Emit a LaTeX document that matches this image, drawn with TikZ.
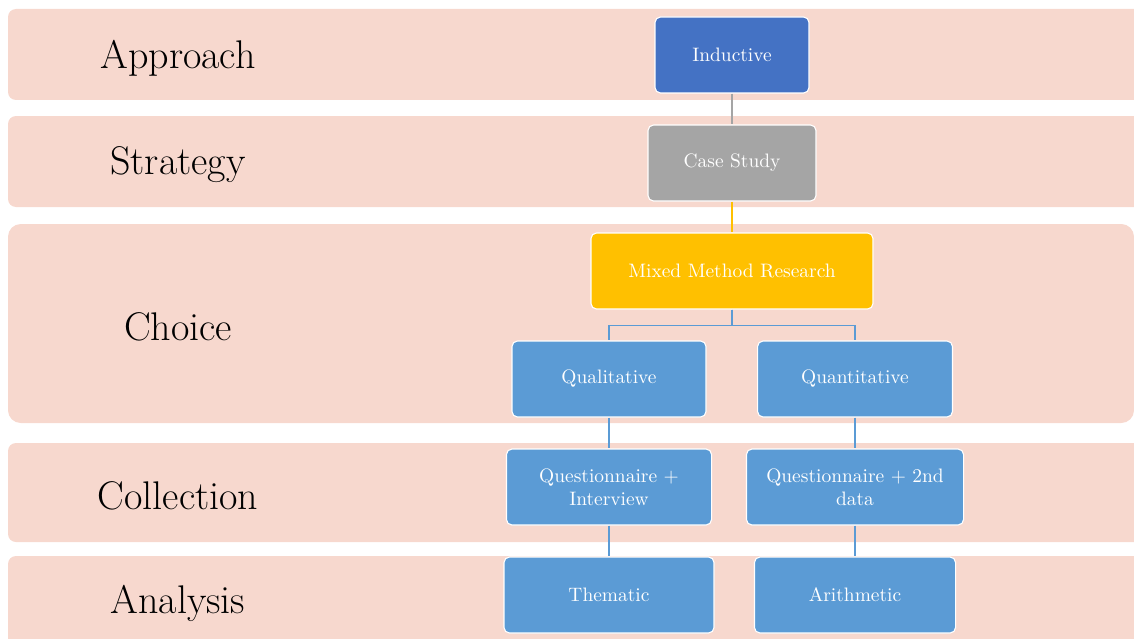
\documentclass[tikz,border=0pt]{standalone}
\usepackage{tikz}

\definecolor{band}{RGB}{247,216,206}
\definecolor{bluedark}{RGB}{68,114,196}
\definecolor{greybox}{RGB}{165,165,165}
\definecolor{goldbox}{RGB}{255,192,0}
\definecolor{bluebox}{RGB}{91,155,213}

\tikzset{
	box/.style={draw=white, line width=0.6pt, rounded corners=3pt, text=white, align=center, minimum height=41.8pt, inner xsep=4pt, font=\fontsize{10.7}{12.7}\selectfont},
	bandlabel/.style={font=\fontsize{22}{26}\selectfont}
}

\begin{document}
\begin{tikzpicture}[x=0.55pt, y=-0.55pt]
	
	\useasboundingbox (0,0) rectangle (1134,638);
	
	% bands
	\fill[band, rounded corners=4.4pt] (8,9) rectangle (1150,100);
	\fill[band, rounded corners=4.4pt] (8,116) rectangle (1150,207);
	\fill[band, rounded corners=7pt] (8,224) rectangle (1134,423);
	\fill[band, rounded corners=4.4pt] (8,443) rectangle (1150,542);
	\fill[band, rounded corners=4.4pt] (8,556) rectangle (1150,660);
	
	\node[bandlabel] (lapp) at (178,58) {Approach};
	\node[bandlabel] (lstr) at (178,165) {Strategy};
	\node[bandlabel] (lcho) at (178,327) {Choice};
	\node[bandlabel] (lcol) at (178,496) {Collection};
	\node[bandlabel] (lana) at (178,603) {Analysis};
	
	% boxes
	\node[box, fill=bluedark, minimum width=84.7pt] (ind) at (732,55) {Inductive};
	\node[box, fill=greybox, minimum width=92.4pt] (cs) at (732,163) {Case Study};
	\node[box, fill=goldbox, minimum width=155.1pt] (mmr) at (732,271) {Mixed Method Research};
	\node[box, fill=bluebox, minimum width=106.7pt] (qual) at (609,379) {Qualitative};
	\node[box, fill=bluebox, minimum width=107.2pt] (quant) at (855,379) {Quantitative};
	\node[box, fill=bluebox, minimum width=112.8pt] (qi) at (609,487) {Questionnaire +\\ Interview};
	\node[box, fill=bluebox, minimum width=119.4pt] (q2) at (855,487) {Questionnaire + 2nd\\ data};
	\node[box, fill=bluebox, minimum width=115.5pt] (them) at (609,595) {Thematic};
	\node[box, fill=bluebox, minimum width=110.6pt] (arith) at (855,595) {Arithmetic};
	
	% links
	\draw[greybox, line width=0.6pt] (ind) -- (cs);
	\draw[goldbox, line width=0.6pt] (cs) -- (mmr);
	\draw[bluebox, line width=0.6pt] (mmr.south) -- ++(0,16) -| (qual.north);
	\draw[bluebox, line width=0.6pt] (mmr.south) -- ++(0,16) -| (quant.north);
	\draw[bluebox, line width=0.6pt] (qual) -- (qi);
	\draw[bluebox, line width=0.6pt] (quant) -- (q2);
	\draw[bluebox, line width=0.6pt] (qi) -- (them);
	\draw[bluebox, line width=0.6pt] (q2) -- (arith);
	
\end{tikzpicture}
\end{document}
